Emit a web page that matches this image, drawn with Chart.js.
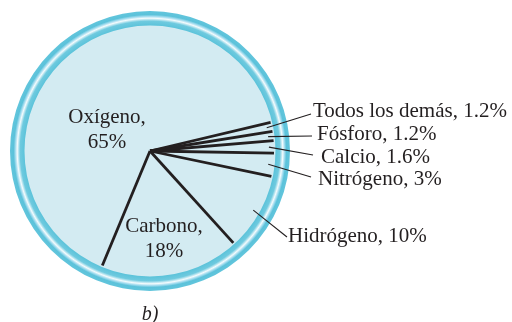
<!DOCTYPE html>
<html>
<head>
<meta charset="utf-8">
<script src="https://cdn.jsdelivr.net/npm/chart.js@4"></script>
<style>
  html, body { margin: 0; padding: 0; background: #fff; }
  #wrap { width: 512px; height: 322px; }
</style>
</head>
<body>
<div id="wrap"><canvas id="myChart" width="512" height="322"></canvas></div>
<script>
// elements in the body, clockwise from the small slices at the right
const categories = ["Todos los demás", "Fósforo", "Calcio", "Nitrógeno", "Hidrógeno", "Carbono", "Oxígeno"];
const values = [1.2, 1.2, 1.6, 3, 10, 18, 65];
const valueLabels = ["1.2%", "1.2%", "1.6%", "3%", "10%", "18%", "65%"];

// where each label sits (outside ones get a leader line)
const labelLayout = [
  { x: 313, y: 117, lx: 311, ly: 114, outside: true },
  { x: 317, y: 140, lx: 312, ly: 136, outside: true },
  { x: 321, y: 163, lx: 313, ly: 155, outside: true },
  { x: 318, y: 185, lx: 311, ly: 177, outside: true },
  { x: 288, y: 242, lx: 287, ly: 237, outside: true },
  { x: 164, y: 232, outside: false },
  { x: 107, y: 123, outside: false },
];

const ink = "#231f20";
const fill = "#d3ebf2";

const piePlugin = {
  id: "pieExtras",
  afterDatasetsDraw(chart) {
    const ctx = chart.ctx;
    const arcs = chart.getDatasetMeta(0).data;
    const cx = arcs[0].x, cy = arcs[0].y, r = arcs[0].outerRadius;

    // rim around the pie
    const r1 = r - 0.5, r2 = r + 14;
    const g = ctx.createRadialGradient(cx, cy, r1, cx, cy, r2);
    g.addColorStop(0, "#5cc3da");
    g.addColorStop(0.3, "#6fcadf");
    g.addColorStop(0.5, "#f4fbfd");
    g.addColorStop(0.62, "#a8def0");
    g.addColorStop(0.75, "#5bc2da");
    g.addColorStop(1, "#62c5dc");
    ctx.save();
    ctx.beginPath();
    ctx.arc(cx, cy, r2, 0, Math.PI * 2);
    ctx.arc(cx, cy, r1, 0, Math.PI * 2, true);
    ctx.fillStyle = g;
    ctx.fill();

    // radial dividing lines
    ctx.strokeStyle = ink;
    ctx.lineWidth = 2.8;
    ctx.lineCap = "butt";
    arcs.forEach((a) => {
      ctx.beginPath();
      ctx.moveTo(cx, cy);
      ctx.lineTo(cx + Math.cos(a.startAngle) * (r - 2), cy + Math.sin(a.startAngle) * (r - 2));
      ctx.stroke();
    });

    // labels
    ctx.fillStyle = ink;
    ctx.font = '21px "Liberation Serif"';
    ctx.textBaseline = "alphabetic";
    arcs.forEach((a, i) => {
      const p = labelLayout[i];
      if (p.outside) {
        const mid = (a.startAngle + a.endAngle) / 2;
        ctx.lineWidth = 1.1;
        ctx.beginPath();
        ctx.moveTo(cx + Math.cos(mid) * (r - 7), cy + Math.sin(mid) * (r - 7));
        ctx.lineTo(p.lx, p.ly);
        ctx.stroke();
        ctx.textAlign = "left";
        ctx.fillText(categories[i] + ", " + valueLabels[i], p.x, p.y);
      } else {
        ctx.textAlign = "center";
        ctx.fillText(categories[i] + ",", p.x, p.y);
        ctx.fillText(valueLabels[i], p.x, p.y + 25);
      }
    });

    ctx.font = 'italic 20px "Liberation Serif"';
    ctx.textAlign = "center";
    ctx.fillText("b)", 150, 320);
    ctx.restore();
  },
};

new Chart(document.getElementById("myChart").getContext("2d"), {
  type: "pie",
  data: {
    labels: categories,
    datasets: [
      {
        data: values,
        backgroundColor: fill,
        borderColor: fill,
        borderWidth: 1,
      },
    ],
  },
  options: {
    responsive: false,
    animation: false,
    rotation: 76.6,
    radius: 126,
    layout: { padding: { left: 10, right: 222, top: 11, bottom: 31 } },
    plugins: {
      legend: { display: false },
      tooltip: { enabled: false },
    },
  },
  plugins: [piePlugin],
});
</script>
</body>
</html>
